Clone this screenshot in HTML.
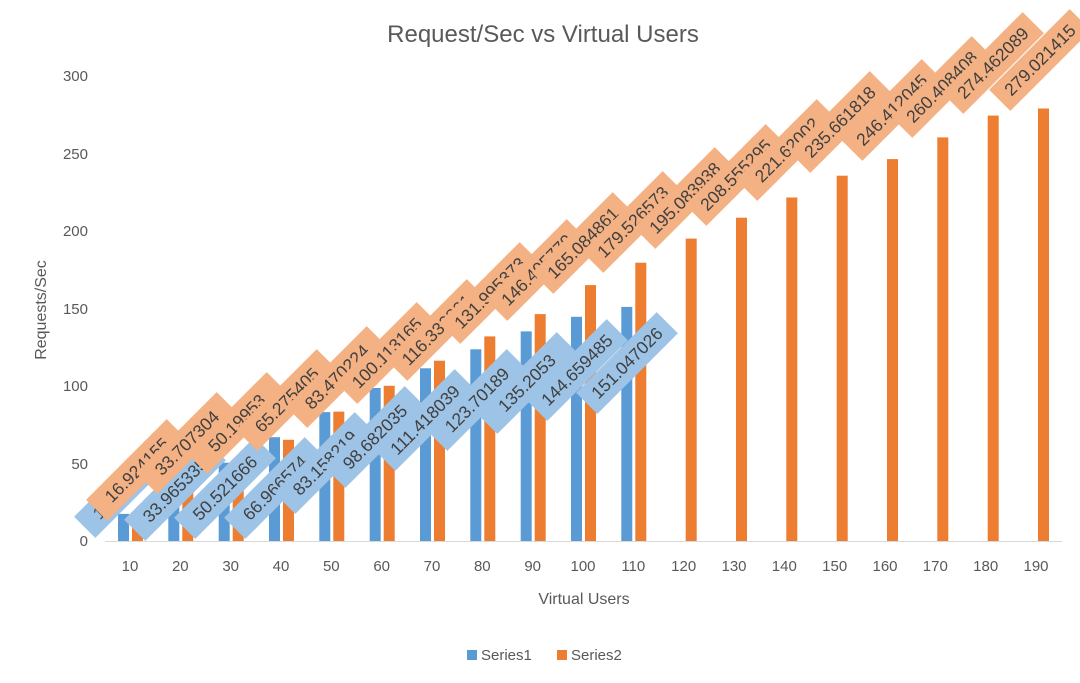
<!DOCTYPE html>
<html><head><meta charset="utf-8"><style>
html,body{margin:0;padding:0;background:#fff;}
svg{display:block;font-family:"Liberation Sans",sans-serif;}
.b rect{fill:#9DC3E6}.o rect{fill:#F4B183}
.lb text{font-size:17.5px;fill:#404040;text-anchor:middle;dominant-baseline:central}
.ax{font-size:15px;fill:#595959}
</style></head><body>
<svg width="1080" height="683" viewBox="0 0 1080 683">
<text x="543" y="42" text-anchor="middle" font-size="24" fill="#595959">Request/Sec vs Virtual Users</text>
<g class="ax" text-anchor="end">
<text x="88" y="546">0</text><text x="88" y="469">50</text><text x="88" y="391">100</text><text x="88" y="314">150</text><text x="88" y="236">200</text><text x="88" y="159">250</text><text x="88" y="81">300</text>
</g>
<text transform="translate(46,310) rotate(-90)" text-anchor="middle" font-size="16" fill="#595959">Requests/Sec</text>
<line x1="105" y1="541.5" x2="1062" y2="541.5" stroke="#d9d9d9" stroke-width="1"/>
<g class="ax" text-anchor="middle">
<text x="130" y="571">10</text><text x="180.3" y="571">20</text><text x="230.7" y="571">30</text><text x="281" y="571">40</text><text x="331.3" y="571">50</text><text x="381.7" y="571">60</text><text x="432" y="571">70</text><text x="482.3" y="571">80</text><text x="532.7" y="571">90</text><text x="583" y="571">100</text><text x="633.3" y="571">110</text><text x="683.7" y="571">120</text><text x="734" y="571">130</text><text x="784.3" y="571">140</text><text x="834.7" y="571">150</text><text x="885" y="571">160</text><text x="935.3" y="571">170</text><text x="985.7" y="571">180</text><text x="1036" y="571">190</text>
</g>
<text x="584" y="604" text-anchor="middle" font-size="16" fill="#595959">Virtual Users</text>
<g fill="#5B9BD5">
<rect x="118" y="513.9" width="11" height="27.1"/><rect x="168.3" y="488.4" width="11" height="52.6"/><rect x="218.7" y="462.7" width="11" height="78.3"/><rect x="269" y="437.2" width="11" height="103.8"/><rect x="319.3" y="412.1" width="11" height="128.9"/><rect x="369.7" y="388" width="11" height="153"/><rect x="420" y="368.3" width="11" height="172.7"/><rect x="470.3" y="349.3" width="11" height="191.7"/><rect x="520.7" y="331.4" width="11" height="209.6"/><rect x="571" y="316.8" width="11" height="224.2"/><rect x="621.3" y="306.9" width="11" height="234.1"/>
</g>
<g fill="#ED7D31">
<rect x="132" y="514.8" width="11" height="26.2"/><rect x="182.3" y="488.7" width="11" height="52.3"/><rect x="232.7" y="463.2" width="11" height="77.8"/><rect x="283" y="439.8" width="11" height="101.2"/><rect x="333.3" y="411.6" width="11" height="129.4"/><rect x="383.7" y="385.8" width="11" height="155.2"/><rect x="434" y="360.7" width="11" height="180.3"/><rect x="484.3" y="336.4" width="11" height="204.6"/><rect x="534.7" y="314.1" width="11" height="226.9"/><rect x="585" y="285.1" width="11" height="255.9"/><rect x="635.3" y="262.7" width="11" height="278.3"/><rect x="685.7" y="238.6" width="11" height="302.4"/><rect x="736" y="217.7" width="11" height="323.3"/><rect x="786.3" y="197.5" width="11" height="343.5"/><rect x="836.7" y="175.7" width="11" height="365.3"/><rect x="887" y="159.1" width="11" height="381.9"/><rect x="937.3" y="137.4" width="11" height="403.6"/><rect x="987.7" y="115.6" width="11" height="425.4"/><rect x="1038" y="108.5" width="11" height="432.5"/>
</g>
<g class="lb b">
<g transform="translate(125,487) rotate(-45)"><rect x="-57" y="-15" width="114" height="30"/><text>17.454012</text></g>
<g transform="translate(175,490) rotate(-45)"><rect x="-57" y="-15" width="114" height="30"/><text>33.965335</text></g>
<g transform="translate(225,488) rotate(-45)"><rect x="-57" y="-15" width="114" height="30"/><text>50.521666</text></g>
<g transform="translate(275,488) rotate(-45)"><rect x="-57" y="-15" width="114" height="30"/><text>66.966574</text></g>
<g transform="translate(325,463) rotate(-45)"><rect x="-57" y="-15" width="114" height="30"/><text>83.158219</text></g>
<g transform="translate(375,437) rotate(-45)"><rect x="-57" y="-15" width="114" height="30"/><text>98.682035</text></g>
<g transform="translate(425,420) rotate(-45)"><rect x="-57" y="-15" width="114" height="30"/><text>111.418039</text></g>
<g transform="translate(477,400) rotate(-45)"><rect x="-57" y="-15" width="114" height="30"/><text>123.70189</text></g>
<g transform="translate(527,383) rotate(-45)"><rect x="-57" y="-15" width="114" height="30"/><text>135.2053</text></g>
<g transform="translate(577,370) rotate(-45)"><rect x="-57" y="-15" width="114" height="30"/><text>144.659485</text></g>
<g transform="translate(627,363) rotate(-45)"><rect x="-57" y="-15" width="114" height="30"/><text>151.047026</text></g>
</g>
<g class="lb o">
<g transform="translate(137,470) rotate(-45)"><rect x="-57" y="-15" width="114" height="30"/><text>16.924155</text></g>
<g transform="translate(187,443) rotate(-45)"><rect x="-57" y="-15" width="114" height="30"/><text>33.707304</text></g>
<g transform="translate(237,423) rotate(-45)"><rect x="-57" y="-15" width="114" height="30"/><text>50.19953</text></g>
<g transform="translate(287,400) rotate(-45)"><rect x="-57" y="-15" width="114" height="30"/><text>65.275405</text></g>
<g transform="translate(337,377) rotate(-45)"><rect x="-57" y="-15" width="114" height="30"/><text>83.470224</text></g>
<g transform="translate(387,353) rotate(-45)"><rect x="-57" y="-15" width="114" height="30"/><text>100.113165</text></g>
<g transform="translate(437,330) rotate(-45)"><rect x="-57" y="-15" width="114" height="30"/><text>116.330861</text></g>
<g transform="translate(490,293) rotate(-45)"><rect x="-57" y="-15" width="114" height="30"/><text>131.995373</text></g>
<g transform="translate(537,270) rotate(-45)"><rect x="-57" y="-15" width="114" height="30"/><text>146.405779</text></g>
<g transform="translate(583,243) rotate(-45)"><rect x="-57" y="-15" width="114" height="30"/><text>165.084861</text></g>
<g transform="translate(633,222) rotate(-45)"><rect x="-57" y="-15" width="114" height="30"/><text>179.526573</text></g>
<g transform="translate(685,198) rotate(-45)"><rect x="-57" y="-15" width="114" height="30"/><text>195.083938</text></g>
<g transform="translate(736,175) rotate(-45)"><rect x="-57" y="-15" width="114" height="30"/><text>208.555295</text></g>
<g transform="translate(787,150) rotate(-45)"><rect x="-57" y="-15" width="114" height="30"/><text>221.62002</text></g>
<g transform="translate(840,122) rotate(-45)"><rect x="-57" y="-15" width="114" height="30"/><text>235.661818</text></g>
<g transform="translate(892,110) rotate(-45)"><rect x="-57" y="-15" width="114" height="30"/><text>246.412045</text></g>
<g transform="translate(942,87) rotate(-45)"><rect x="-57" y="-15" width="114" height="30"/><text>260.408408</text></g>
<g transform="translate(993,63) rotate(-45)"><rect x="-57" y="-15" width="114" height="30"/><text>274.462089</text></g>
<g transform="translate(1040,60) rotate(-45)"><rect x="-57" y="-15" width="114" height="30"/><text>279.021415</text></g>
</g>
<rect x="467" y="650" width="10" height="10" fill="#5B9BD5"/>
<text x="481" y="660" font-size="15" fill="#595959">Series1</text>
<rect x="557" y="650" width="10" height="10" fill="#ED7D31"/>
<text x="571" y="660" font-size="15" fill="#595959">Series2</text>
</svg>
</body></html>
